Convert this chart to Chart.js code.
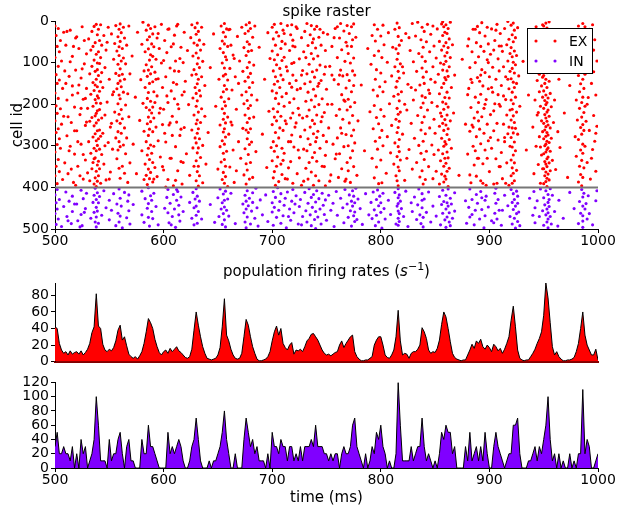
<!DOCTYPE html>
<html><head><meta charset="utf-8">
<script src="https://cdn.jsdelivr.net/npm/chart.js@4.4.1/dist/chart.umd.min.js"></script>
<style>
html,body{margin:0;padding:0;background:#fff;}
#wrap{position:relative;width:620px;height:507px;overflow:hidden;background:#fff;}
canvas{position:absolute;left:0;}
</style></head><body>
<div id="wrap">
<canvas id="c1" width="620" height="262" style="top:0px;width:620px;height:262px"></canvas>
<canvas id="c2" width="620" height="110" style="top:262px;width:620px;height:110px"></canvas>
<canvas id="c3" width="620" height="135" style="top:372px;width:620px;height:135px"></canvas>
</div>
<script>
// ---------------- DATA ----------------
const xTicks = [500, 600, 700, 800, 900, 1000];
const cellTicks = [0, 100, 200, 300, 400, 500];
const exRateTicks = [0, 20, 40, 60, 80];
const inRateTicks = [0, 20, 40, 60, 80, 100, 120];
const nExCells = 400;   // boundary between EX and IN cells

// population rates, 2 ms bins starting at 500 ms
const rateStart = 500, rateBin = 2;
const exRate = [
42,40,22,14,10,12,8,13,9,11,
12,9,13,8,11,15,22,35,42,82,
43,40,21,14,12,15,13,17,25,38,
44,26,30,19,9,6,4,6,3,7,
12,22,36,52,47,40,27,18,11,8,
12,14,10,16,12,15,18,13,11,8,
5,4,6,15,38,60,44,30,18,10,
4,3,2,3,4,8,17,42,76,32,
25,15,8,4,3,4,10,30,51,44,
30,18,10,3,1,1,2,3,6,12,
25,36,43,32,40,22,17,14,20,23,
9,14,13,15,12,18,25,28,33,34,
30,26,20,14,10,8,9,7,9,11,
12,20,25,17,22,26,30,32,12,6,
3,1,1,2,2,4,6,20,26,30,
30,20,8,5,4,8,14,30,62,25,
8,10,9,4,10,12,12,15,20,41,
36,28,14,10,12,11,16,26,45,60,
54,40,24,10,5,3,2,1,2,2,
8,14,21,16,25,22,27,18,15,20,
17,12,21,18,13,16,10,15,22,30,
50,67,42,14,4,2,1,2,2,6,
10,15,22,28,36,56,95,77,47,18,
8,12,6,3,1,1,2,2,3,5,
12,22,40,60,32,20,14,8,8,15,
2];
const inRate = [
30,50,20,20,30,20,20,10,30,0,
20,0,40,20,30,0,10,20,40,100,
60,10,10,10,0,40,10,20,20,40,
50,20,0,30,40,10,10,0,0,0,
40,20,20,60,30,30,20,10,0,0,
0,0,50,20,30,20,30,40,30,10,
0,0,10,30,40,70,40,10,0,0,
0,10,0,10,10,20,30,50,80,40,
20,0,0,20,0,0,0,40,70,50,
30,40,20,30,10,10,10,0,20,0,
50,30,30,20,40,30,30,10,30,30,
10,20,10,30,10,30,30,30,40,30,
60,30,30,30,20,20,10,20,10,20,
20,0,20,30,20,20,30,60,70,30,
20,10,0,20,0,10,30,20,50,40,
60,30,20,0,10,0,0,20,120,60,
10,10,10,10,30,10,20,30,30,70,
30,10,20,10,0,10,0,20,50,40,
60,50,50,20,30,0,0,0,0,30,
10,50,10,20,30,10,30,10,50,20,
0,0,30,50,30,20,10,0,10,20,
20,60,60,70,20,0,0,0,10,10,
20,30,10,30,20,40,60,100,40,10,
20,0,20,0,10,0,0,20,0,10,
0,20,20,110,20,40,30,0,0,10,
20];

// spikes: flat list of (time ms, cell id) pairs
const exSpikes = [
500,12,500,88,500,173,500,240,500,315,500,372,501,35,501,129,501,204,501,268,501,349,502,61,502,150,502,222,502,297,502,391,503,18,503,109,503,186,503,259,503,333,504,74,504,142,504,283,504,362,505,47,505,211,505,306,506,96,506,248,507,162,507,381,508,27,508,229,509,120,509,341,
510,58,511,276,511,190,512,367,513,133,514,22,514,301,515,244,516,85,516,156,517,388,518,207,518,320,519,41,519,118,
520,264,521,173,521,349,522,66,523,225,524,137,524,296,525,14,526,380,526,188,527,103,528,251,528,334,529,79,529,162,
530,210,530,365,531,43,531,290,532,127,532,241,532,384,533,70,533,176,533,318,534,25,534,109,534,232,534,355,535,61,535,148,535,205,535,279,535,340,536,13,536,94,536,167,536,252,536,306,536,392,537,52,537,121,537,189,537,228,537,271,537,329,537,377,538,8,538,80,538,140,538,197,538,245,538,288,538,312,538,361,538,398,539,33,539,101,539,158,539,216,539,264,539,299,539,346,539,385,539,117,539,180,538,222,537,154,536,331,
540,20,540,74,540,131,540,185,540,238,540,283,540,337,540,372,541,47,541,102,541,169,541,213,541,262,541,308,541,355,542,9,542,88,542,146,542,198,542,277,542,390,543,58,543,124,543,233,543,321,544,160,544,270,545,35,545,344,546,112,546,226,547,70,547,382,548,195,549,292,549,15,
550,140,551,255,551,363,552,31,553,177,553,308,554,92,555,219,555,54,556,126,556,281,556,11,557,163,557,72,557,240,557,331,558,38,558,104,558,150,558,199,558,266,558,310,559,20,559,83,559,131,559,178,559,224,559,290,559,62,559,354,
560,7,560,49,560,115,560,144,560,187,560,246,560,302,560,378,561,28,561,96,561,158,561,213,561,270,562,66,562,128,562,235,562,349,563,15,563,89,563,171,563,298,564,41,564,140,564,257,564,366,565,103,565,202,565,319,566,58,566,281,567,175,567,388,568,12,568,230,569,127,569,341,
571,84,572,296,574,183,575,367,576,27,578,239,579,141,
580,56,580,312,581,198,581,3,582,120,582,265,582,381,583,74,583,160,583,344,584,22,584,105,584,208,584,290,584,371,585,45,585,133,585,186,585,247,585,322,585,393,586,10,586,67,586,118,586,172,586,231,586,275,586,306,586,356,587,38,587,94,587,150,587,214,587,260,587,333,587,379,588,18,588,81,588,127,588,193,588,242,588,298,588,364,589,55,589,110,589,221,589,318,
590,31,590,85,590,146,590,207,590,266,590,340,590,387,591,62,591,170,591,233,591,301,592,14,592,123,592,196,592,352,593,92,593,255,594,41,594,180,594,374,595,139,595,288,596,66,596,221,597,327,598,101,598,8,599,249,599,160,
600,212,600,358,601,47,602,134,602,291,603,76,604,196,604,381,605,19,605,250,606,113,606,330,607,168,607,62,608,275,608,229,609,148,609,396,
610,34,610,187,611,302,611,96,612,243,612,152,613,360,613,8,614,121,614,211,615,275,616,63,616,338,617,178,617,392,618,100,619,256,619,27,
620,145,621,319,622,71,623,201,624,371,625,40,626,262,626,130,626,9,627,185,627,305,627,84,628,53,628,226,628,349,628,117,629,16,629,160,629,281,
630,32,630,77,630,128,630,174,630,205,630,247,630,293,630,336,630,384,631,5,631,58,631,103,631,151,631,192,631,238,631,270,631,317,631,362,632,25,632,89,632,140,632,219,632,259,632,305,632,349,632,397,633,46,633,112,633,167,633,283,633,372,634,70,634,180,634,244,634,328,635,15,635,134,635,211,636,97,636,299,636,389,637,56,638,229,638,155,639,344,
641,268,643,112,646,31,648,205,
650,356,651,140,652,66,652,250,652,302,653,12,653,183,653,339,654,48,654,101,654,211,654,288,654,381,655,27,655,76,655,132,655,170,655,236,655,267,655,318,655,364,656,6,656,55,656,113,656,155,656,194,656,222,656,259,656,296,656,333,656,390,657,38,657,86,657,128,657,204,657,245,657,279,657,349,657,374,658,19,658,93,658,164,658,313,659,61,659,231,659,398,659,142,
660,21,660,187,660,272,661,114,661,351,662,58,662,243,663,166,664,310,664,82,665,388,666,134,667,212,668,37,669,290,
670,96,671,330,672,178,672,15,673,258,673,121,674,64,674,199,674,370,675,30,675,145,675,226,675,307,676,9,676,83,676,170,676,262,676,343,676,392,677,50,677,112,677,191,677,244,677,283,677,358,678,24,678,73,678,135,678,210,678,268,678,321,679,4,679,99,679,160,679,234,679,297,679,380,679,56,
680,18,680,126,680,203,680,259,680,340,681,71,681,178,681,291,682,39,682,148,682,376,683,106,683,231,684,12,685,314,686,190,688,63,
691,272,693,140,695,352,696,28,697,217,698,90,699,304,
700,15,700,72,700,168,700,249,700,336,701,43,701,120,701,211,701,290,701,377,702,8,702,93,702,152,702,231,702,313,702,362,703,58,703,134,703,186,703,268,703,395,704,27,704,105,704,173,704,240,704,300,704,349,705,81,705,145,705,218,705,327,706,36,706,199,706,281,706,386,707,114,707,160,707,257,708,6,708,66,708,229,708,344,709,95,709,182,709,306,709,369,709,49,708,130,
710,22,710,141,710,263,711,87,711,205,711,318,712,55,712,379,713,174,713,247,714,11,714,120,715,290,715,353,716,71,716,196,717,33,717,233,717,338,718,102,718,159,718,274,719,46,719,221,719,390,719,130,718,9,
720,187,720,303,721,62,722,245,722,143,723,367,723,18,724,210,725,91,725,329,726,162,726,278,727,40,727,395,728,119,728,233,729,74,729,308,
730,151,730,25,730,262,731,193,731,354,731,88,732,6,732,127,732,229,732,312,733,59,733,171,733,283,733,380,734,104,734,214,734,340,735,33,735,146,735,255,735,297,736,78,736,190,736,363,736,11,737,122,737,239,737,328,737,52,738,164,738,271,738,395,738,91,739,20,739,206,739,316,739,135,739,247,738,43,
740,65,740,180,740,290,740,372,741,13,741,118,741,226,741,337,742,84,742,157,742,265,743,39,743,201,743,384,744,106,744,306,745,143,745,242,745,58,746,349,746,187,747,28,747,275,748,128,748,220,749,71,749,323,749,396,
750,164,751,32,752,257,753,109,754,370,755,200,755,61,756,296,757,141,758,18,758,331,759,227,
760,88,760,281,761,152,761,376,762,41,762,212,762,319,763,6,763,118,763,257,764,177,764,355,764,69,765,236,765,132,766,302,766,24,767,193,767,385,767,97,768,161,768,273,768,51,769,340,769,214,769,11,769,129,
770,78,770,188,770,300,770,360,771,30,771,143,771,245,772,101,772,206,772,329,772,388,773,14,773,61,773,170,773,276,774,120,774,227,774,312,774,45,775,89,775,155,775,262,775,350,775,7,776,196,776,293,776,130,777,39,778,371,779,240,
782,154,785,312,788,66,
790,218,791,104,792,35,792,330,793,166,793,259,794,9,794,83,794,203,794,377,795,140,795,289,795,48,796,232,796,117,796,351,797,20,797,180,797,308,798,72,798,247,798,391,799,158,799,280,
800,36,800,125,800,213,800,334,801,88,801,263,801,389,802,10,802,170,802,300,803,57,803,229,804,146,805,366,806,99,806,278,807,28,808,199,809,317,
810,132,810,251,811,63,812,344,812,181,813,20,813,110,813,293,814,67,814,159,814,236,814,372,815,5,815,92,815,145,815,210,815,268,815,326,815,384,816,37,816,78,816,121,816,176,816,224,816,256,816,302,816,351,816,396,817,16,817,58,817,137,817,192,817,241,817,285,817,314,817,360,818,103,818,219,818,334,819,47,819,170,
820,272,821,125,822,383,823,30,824,214,825,152,826,309,827,71,828,246,829,6,829,356,
830,190,830,98,831,282,832,36,832,166,833,340,833,121,834,227,834,3,835,299,835,78,836,154,836,375,837,45,837,208,837,262,837,318,838,15,838,113,838,180,838,244,838,360,839,63,839,135,839,289,839,392,839,197,838,86,
840,25,840,150,840,230,840,333,841,97,841,184,841,271,841,381,842,50,842,122,842,313,843,8,843,214,844,166,844,350,845,74,845,257,846,140,846,32,847,298,847,196,848,110,848,379,849,60,849,236,849,321,848,12,845,174,
850,147,850,270,851,89,851,361,852,19,852,205,853,128,853,310,854,49,854,175,854,253,854,392,855,101,855,221,855,336,856,7,856,70,856,160,856,282,856,368,857,35,857,118,857,195,857,246,857,319,858,14,858,60,858,104,858,150,858,212,858,263,858,301,858,349,858,387,859,27,859,84,859,136,859,184,859,237,859,290,859,330,859,373,857,2,856,229,
860,9,860,52,860,97,860,141,860,199,860,250,860,296,860,342,860,380,861,30,861,76,861,120,861,171,861,226,861,273,861,315,861,361,862,18,862,64,862,133,862,207,862,259,862,329,862,398,863,43,863,110,863,185,863,285,863,354,864,88,864,240,864,3,865,160,865,306,866,57,867,221,868,130,
872,371,875,92,878,248,
880,177,880,320,881,43,882,112,882,265,883,208,883,389,884,74,884,148,885,301,885,20,886,233,886,346,887,100,887,183,888,52,888,278,888,373,889,136,889,219,889,13,887,312,884,250,881,162,
890,86,890,196,890,330,891,28,891,145,891,260,892,61,892,176,892,295,892,384,893,117,893,230,893,4,894,156,894,343,895,73,895,270,895,210,896,36,896,124,896,310,897,189,897,395,898,93,898,248,898,15,899,163,899,288,899,55,
900,134,900,362,901,80,901,225,902,19,902,306,903,171,903,111,904,264,904,392,905,47,905,199,906,140,906,331,907,8,907,246,908,91,908,286,908,177,909,60,909,350,909,120,904,216,
910,30,910,205,911,155,911,316,912,73,912,379,913,248,913,110,914,18,914,290,915,189,915,134,916,57,916,341,916,226,917,96,917,271,917,1,918,163,918,395,918,44,919,214,919,121,919,301,919,78,918,255,
920,10,920,64,920,139,920,190,920,238,920,280,920,334,920,372,921,33,921,86,921,114,921,171,921,212,921,257,921,303,921,353,921,390,922,5,922,50,922,99,922,147,922,199,922,228,922,269,922,322,922,366,923,22,923,72,923,125,923,160,923,244,923,291,923,341,923,384,924,40,924,105,924,183,924,258,924,312,925,83,925,150,925,219,925,359,926,16,926,272,927,132,928,205,
931,97,934,310,936,178,938,40,
940,255,940,120,941,367,941,62,942,190,943,14,943,301,944,143,944,226,945,88,945,345,946,39,946,170,946,278,947,110,947,205,947,390,948,63,948,156,948,240,948,322,949,9,949,97,949,183,949,266,949,355,948,28,947,303,946,128,945,220,949,135,
950,12,950,47,950,86,950,131,950,168,950,210,950,246,950,283,950,319,950,355,950,391,951,25,951,63,951,102,951,150,951,191,951,225,951,262,951,300,951,338,951,372,952,5,952,40,952,78,952,115,952,140,952,178,952,201,952,233,952,254,952,277,952,296,952,315,952,344,952,363,952,386,953,17,953,55,953,94,953,124,953,160,953,196,953,219,953,241,953,268,953,289,953,309,953,331,953,350,953,378,953,398,954,33,954,70,954,109,954,185,954,214,954,250,954,274,954,305,954,327,954,368,955,2,955,59,955,145,955,229,955,292,955,341,955,382,956,90,956,174,956,257,956,313,956,360,957,28,957,206,957,282,958,120,958,335,959,71,959,244,
960,190,961,357,962,32,963,266,964,140,965,304,967,82,969,221,
972,376,974,155,977,49,979,278,
980,190,980,325,981,66,981,238,982,12,982,131,982,285,982,387,983,44,983,170,983,210,983,349,984,92,984,151,984,256,984,310,984,369,985,21,985,74,985,119,985,196,985,231,985,272,985,335,985,396,986,6,986,53,986,102,986,140,986,183,986,249,986,296,986,318,986,376,987,35,987,87,987,162,987,220,987,263,987,353,988,14,988,128,988,205,988,301,989,58,989,241,
990,110,990,340,991,27,991,184,992,263,993,79,993,380,994,150,995,309,995,9,996,227,996,122,997,45,997,289,998,178,998,361,999,96,999,253,
// background spikes between bursts
510,150,511,25,512,230,513,312,514,98,515,356,516,178,517,61,518,264,519,395,
520,38,521,290,522,154,523,372,524,210,525,115,526,321,527,47,528,186,529,243,
546,300,548,51,550,380,552,246,554,170,
591,380,593,140,595,30,597,210,599,350,
600,95,601,270,602,399,603,180,604,20,606,245,607,330,609,55,
610,120,611,383,612,12,613,200,615,90,616,260,618,340,619,170,
661,20,663,250,665,90,667,360,669,150,
710,335,711,30,712,240,713,110,714,380,716,150,717,290,719,60,
720,100,721,255,722,14,723,165,724,310,725,226,727,130,729,385,
741,280,743,150,744,20,746,230,748,350,749,110,
750,290,751,200,753,385,755,130,757,40,759,320,
760,14,762,130,764,270,766,190,768,380,769,60,
820,110,822,200,824,330,826,40,828,160,
880,60,882,370,883,140,885,255,887,20,889,330,
890,240,892,130,894,390,896,200,898,330,899,100,
901,280,902,160,904,70,906,22,907,390,909,200,
910,350,911,60,913,180,914,280,915,390,917,140,
990,200,992,20,994,330,996,70,998,270
];
const inSpikes = [
500,418,500,463,501,437,501,489,502,405,502,452,503,476,504,429,506,494,508,446,
510,411,511,470,513,433,515,487,516,458,516,421,
520,440,521,480,524,407,524,465,525,492,526,427,528,451,529,414,
533,474,535,436,536,419,536,460,537,483,537,402,538,429,538,448,538,471,538,495,539,413,539,457,
540,437,540,486,541,422,543,467,545,408,547,449,
550,478,550,431,552,455,554,415,556,492,557,440,558,462,559,404,559,483,
560,426,560,469,561,445,562,497,564,412,566,473,567,433,568,456,568,418,569,488,
572,441,
580,466,580,409,582,484,583,427,585,450,586,401,586,439,586,472,587,493,588,420,589,458,589,431,
590,475,591,414,593,446,595,490,
603,424,604,461,604,405,605,485,606,438,608,470,609,417,
610,452,611,496,612,431,613,410,614,466,614,443,615,481,616,423,618,458,
624,436,626,474,627,412,628,490,628,449,629,428,
630,403,630,445,630,467,631,486,631,421,632,458,633,433,635,476,
643,441,647,484,
650,425,651,470,652,404,653,452,654,437,654,489,655,416,655,463,656,431,656,478,656,447,657,409,657,495,658,455,659,428,
660,469,662,414,666,487,
673,440,674,461,675,419,675,483,676,433,676,452,676,497,677,408,677,471,678,444,679,426,
680,488,681,457,682,413,682,436,684,474,685,402,686,449,687,493,689,430,
691,466,694,418,696,482,
700,437,700,459,701,410,701,491,702,448,703,424,704,472,705,401,706,455,707,434,708,486,708,415,
710,468,711,443,712,426,713,497,714,411,716,452,717,479,718,433,719,405,
720,461,722,420,724,488,725,446,726,429,728,470,
730,412,731,456,732,483,733,438,734,403,735,466,736,424,736,492,737,448,738,417,739,477,
740,435,740,458,740,499,741,408,742,471,743,427,744,452,745,488,746,414,747,443,748,465,749,430,
750,479,752,419,754,455,756,438,757,494,759,410,
760,467,763,426,765,449,766,485,767,405,769,440,
770,472,771,418,772,456,773,493,773,433,774,408,774,445,775,468,775,421,776,482,776,437,776,459,777,402,778,477,779,428,
781,451,783,489,786,415,789,466,
791,436,792,475,793,411,794,454,795,492,796,429,796,467,797,406,798,444,798,483,799,421,
800,460,800,437,801,498,802,414,803,451,804,476,807,431,809,465,
813,412,814,488,815,445,816,403,816,425,816,439,816,457,816,474,816,491,817,418,817,463,817,482,818,433,819,451,
821,470,823,409,825,494,828,437,829,458,
831,423,833,477,834,442,835,404,836,466,837,487,838,415,838,449,838,431,839,472,839,495,
840,428,842,460,844,411,846,483,848,445,
851,469,854,422,855,490,856,441,857,407,857,462,858,434,859,478,
860,419,860,452,860,496,861,437,861,471,862,404,862,445,863,483,863,461,864,426,864,492,865,440,866,474,868,413,868,457,
878,432,879,486,
881,448,882,404,882,471,884,429,886,490,887,455,888,417,889,438,
891,476,892,410,893,453,895,497,896,431,896,468,897,421,899,447,
904,485,905,414,905,462,906,438,906,402,907,476,908,429,909,455,
911,491,914,419,917,444,919,470,
920,405,921,436,921,488,922,453,922,415,923,474,923,429,924,498,924,445,925,463,925,409,926,482,926,438,926,421,927,459,928,492,
937,426,
940,467,941,410,942,449,942,485,944,432,946,470,947,404,949,456,
950,491,950,425,951,442,952,466,952,408,953,483,953,452,954,417,954,436,954,461,954,476,954,497,955,429,955,446,956,403,956,470,957,488,958,419,
960,458,963,493,964,431,968,474,
974,412,978,451,
982,487,983,434,984,462,985,405,986,423,986,445,986,468,986,481,986,496,987,414,988,452,989,439,
990,476,991,420,992,463,995,490,998,432,999,408,
// background
512,480,518,440,523,495,527,460,601,450,607,490,612,405,715,470,721,440,727,490,884,465,893,425,902,480,912,455
];

// ---------------- BUILD ----------------
function pairs(flat){ const out=[]; for(let i=0;i+1<flat.length;i+=2) out.push({x:flat[i], y:flat[i+1]}); return out; }
function rateSeries(arr){ return arr.map((v,i)=>({x: rateStart + i*rateBin, y: v})); }

const FONT = "'DejaVu Sans', 'Bitstream Vera Sans', sans-serif";
Chart.defaults.font.family = FONT;
Chart.defaults.font.size = 14;
Chart.defaults.color = '#000';

const RED = '#ff0000', PURPLE = '#8000ff';
const LEFT = 55, RIGHT_PAD = 22;
const DOT = 1.55;

function textPlugin(drawFn){ return {id:'txt', afterDraw(chart){ const ctx = chart.ctx; ctx.save(); drawFn(ctx, chart); ctx.restore(); }}; }

function yAxis(min, max, ticks, reverse){
  return {
    type:'linear', min, max, reverse: !!reverse,
    afterBuildTicks: s => { s.ticks = ticks.map(v => ({value:v})); },
    ticks:{ padding:2, autoSkip:false, font:{size:14, family:FONT}, color:'#000', callback: v => String(v) },
    grid:{ drawOnChartArea:false, drawTicks:true, tickLength:4, tickColor:'#000', color:'#000' },
    border:{ display:true, color:'#000', width:1 },
    afterFit: s => { s.width = LEFT; }
  };
}
function xAxisShown(height){
  return {
    type:'linear', min:500, max:1000,
    afterBuildTicks: s => { s.ticks = xTicks.map(v => ({value:v})); },
    ticks:{ padding:0, autoSkip:false, maxRotation:0, font:{size:14, family:FONT}, color:'#000', callback: v => String(v) },
    grid:{ drawOnChartArea:false, drawTicks:true, tickLength:4, tickColor:'#000', color:'#000' },
    border:{ display:true, color:'#000', width:1 },
    afterFit: s => { s.height = height; }
  };
}
const baseOpts = { animation:false, responsive:false, events:[], devicePixelRatio:1 };

// ---- panel 1: spike raster ----
new Chart(document.getElementById('c1'), {
  type:'scatter',
  data:{ datasets:[
    { type:'line', data:[{x:500,y:nExCells},{x:1000,y:nExCells}], borderColor:'#777777', borderWidth:2, pointRadius:0, fill:false },
    { label:'EX', data: pairs(exSpikes), pointRadius:DOT, pointBackgroundColor:RED, backgroundColor:RED, pointBorderWidth:0, borderWidth:0 },
    { label:'IN', data: pairs(inSpikes), pointRadius:DOT, pointBackgroundColor:PURPLE, backgroundColor:PURPLE, pointBorderWidth:0, borderWidth:0 }
  ]},
  options: Object.assign({}, baseOpts, {
    layout:{ padding:{ left:0, right:RIGHT_PAD, top:21, bottom:0 } },
    plugins:{ legend:{display:false}, tooltip:{enabled:false} },
    scales:{ x: xAxisShown(33), y: yAxis(0, 500, cellTicks, true) }
  }),
  plugins:[ textPlugin((ctx, chart) => {
    const ca = chart.chartArea;
    ctx.fillStyle = '#000';
    ctx.font = '15px ' + FONT;
    ctx.textAlign = 'center'; ctx.textBaseline = 'middle';
    ctx.fillText('spike raster', (ca.left + ca.right)/2, 12);
    ctx.save();
    ctx.translate(18, (ca.top + ca.bottom)/2);
    ctx.rotate(-Math.PI/2);
    ctx.font = '15px ' + FONT;
    ctx.fillText('cell id', 0, 0);
    ctx.restore();
    // legend
    const bx = 527, by = 28, bw = 65, bh = 45;
    ctx.fillStyle = '#fff'; ctx.fillRect(bx, by, bw, bh);
    ctx.strokeStyle = '#000'; ctx.lineWidth = 1; ctx.strokeRect(bx + 0.5, by + 0.5, bw, bh);
    const rows = [['EX', RED, 41], ['IN', PURPLE, 61]];
    ctx.font = '14px ' + FONT; ctx.textAlign = 'left';
    for (const [lab, col, y] of rows) {
      ctx.fillStyle = col;
      for (const dx of [536, 555]) { ctx.beginPath(); ctx.arc(dx, y, DOT, 0, Math.PI*2); ctx.fill(); }
      ctx.fillStyle = '#000';
      ctx.fillText(lab, 569, y + 1);
    }
  }) ]
});

// ---- panel 2: EX rate ----
new Chart(document.getElementById('c2'), {
  type:'line',
  data:{ datasets:[ { data: rateSeries(exRate), borderColor:'#000', borderWidth:1, backgroundColor:RED, fill:'origin', pointRadius:0, tension:0 } ] },
  options: Object.assign({}, baseOpts, {
    layout:{ padding:{ left:0, right:RIGHT_PAD, top:21, bottom:2 } },
    plugins:{ legend:{display:false}, tooltip:{enabled:false} },
    scales:{
      x:{ type:'linear', min:500, max:1000, ticks:{display:false}, grid:{display:false, drawTicks:false},
          border:{display:true, color:'#800000', width:2}, afterFit: s => { s.height = 0; } },
      y: yAxis(0, 95, exRateTicks, false)
    }
  }),
  plugins:[ textPlugin((ctx, chart) => {
    const ca = chart.chartArea;
    const cx = (ca.left + ca.right)/2, y = 10;
    const parts = [
      {t:'population firing rates (', f:'15px ' + FONT, dy:0},
      {t:'s', f:'italic 15px ' + FONT, dy:0},
      {t:'\u22121', f:'11px ' + FONT, dy:-5},
      {t:')', f:'15px ' + FONT, dy:0}
    ];
    let total = 0;
    for (const p of parts) { ctx.font = p.f; p.w = ctx.measureText(p.t).width; total += p.w; }
    let x = cx - total/2;
    ctx.fillStyle = '#000'; ctx.textAlign = 'left'; ctx.textBaseline = 'middle';
    for (const p of parts) { ctx.font = p.f; ctx.fillText(p.t, x, y + p.dy); x += p.w; }
  }) ]
});

// ---- panel 3: IN rate ----
new Chart(document.getElementById('c3'), {
  type:'line',
  data:{ datasets:[ { data: rateSeries(inRate), borderColor:'#000', borderWidth:1, backgroundColor:PURPLE, fill:'origin', pointRadius:0, tension:0 } ] },
  options: Object.assign({}, baseOpts, {
    layout:{ padding:{ left:0, right:RIGHT_PAD, top:8, bottom:0 } },
    plugins:{ legend:{display:false}, tooltip:{enabled:false} },
    scales:{ x: xAxisShown(39), y: yAxis(0, 120, inRateTicks, false) }
  }),
  plugins:[ textPlugin((ctx, chart) => {
    const ca = chart.chartArea;
    ctx.fillStyle = '#000'; ctx.font = '15px ' + FONT;
    ctx.textAlign = 'center'; ctx.textBaseline = 'middle';
    ctx.fillText('time (ms)', (ca.left + ca.right)/2, 126);
  }) ]
});
</script>
</body></html>
